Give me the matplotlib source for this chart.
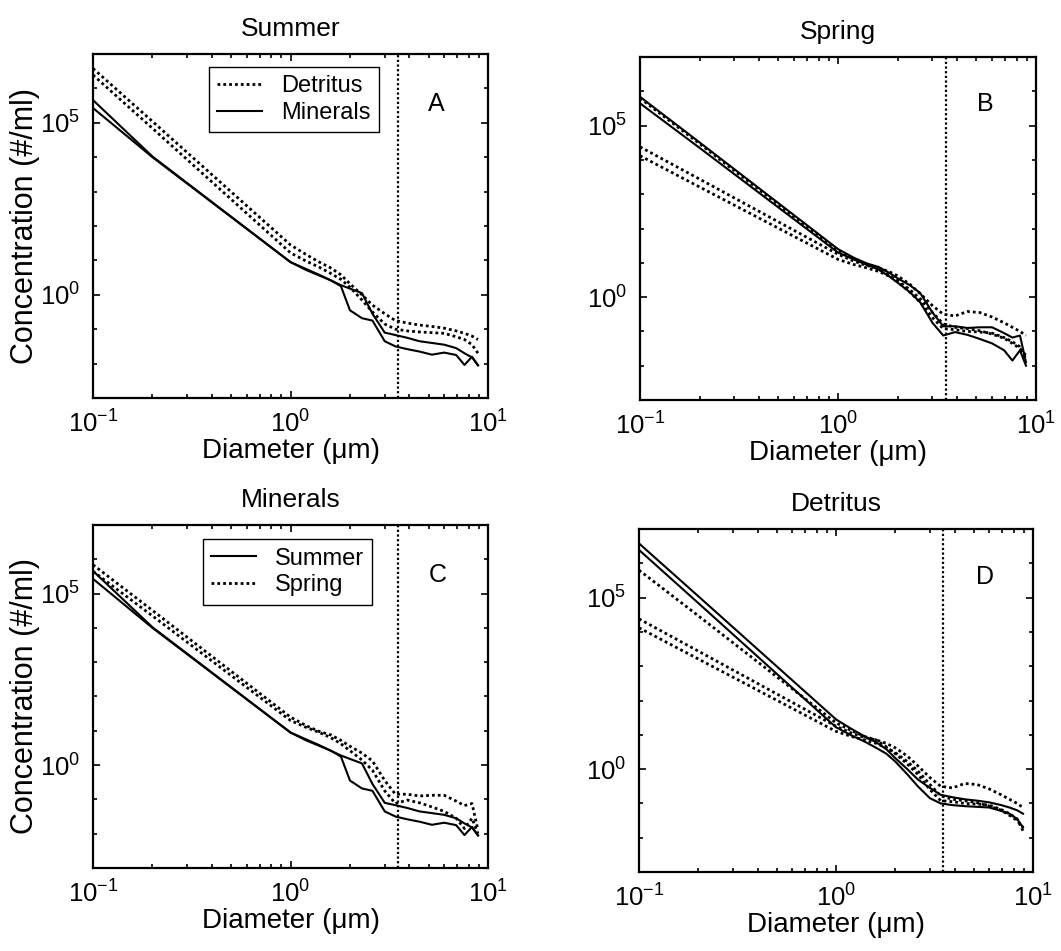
import matplotlib
matplotlib.use('Agg')
import matplotlib.pyplot as plt
import numpy as np
from matplotlib.ticker import FixedLocator, NullFormatter, FuncFormatter, LogLocator
from matplotlib.lines import Line2D

plt.rcParams['font.family'] = ['Liberation Sans', 'DejaVu Sans']
plt.rcParams['mathtext.fontset'] = 'custom'
plt.rcParams['mathtext.rm'] = 'Liberation Sans'
plt.rcParams['mathtext.it'] = 'Liberation Sans:italic'
plt.rcParams['mathtext.bf'] = 'Liberation Sans:bold'

# ---------------- data (log10 of concentration, #/ml) ----------------
diameter_um = [0.1, 0.2, 1.0, 1.2, 1.4, 1.6, 1.8, 2.0, 2.3, 2.6, 3.0, 3.4, 3.9, 4.5, 5.2, 6.0, 6.9, 7.6, 8.3, 8.9]

summer_minerals_a = [5.66, 4.02, 0.95, 0.72, 0.56, 0.42, 0.25, -0.45, -0.68, -0.75, -1.35, -1.50, -1.58, -1.65, -1.74, -1.68, -1.75, -2.04, -1.80, -2.05]
summer_minerals_b = [5.43, 4.00, 0.95, 0.75, 0.58, 0.42, 0.28, 0.18, 0.05, -0.55, -1.10, -1.17, -1.25, -1.35, -1.40, -1.45, -1.55, -1.70, -1.82, -2.05]

summer_detritus_a = [6.58, 5.04, 1.45, 1.17, 0.95, 0.78, 0.58, 0.32, 0.00, -0.30, -0.55, -0.75, -0.82, -0.88, -0.92, -0.97, -1.05, -1.12, -1.20, -1.30]
summer_detritus_b = [6.39, 4.84, 1.22, 0.98, 0.80, 0.62, 0.45, 0.22, -0.15, -0.50, -0.85, -1.00, -1.05, -1.08, -1.10, -1.12, -1.22, -1.30, -1.45, -1.70]

spring_minerals_a = [5.84, 4.51, 1.40, 1.15, 0.98, 0.88, 0.72, 0.55, 0.35, 0.12, -0.45, -0.85, -0.85, -0.90, -0.88, -0.88, -1.05, -1.18, -1.12, -1.90]
spring_minerals_b = [5.65, 4.35, 1.30, 1.10, 0.95, 0.80, 0.62, 0.42, 0.15, -0.15, -0.75, -1.12, -1.02, -1.10, -1.22, -1.35, -1.55, -1.85, -1.55, -2.00]

spring_detritus_a = [5.80, 4.47, 1.35, 1.12, 0.95, 0.85, 0.65, 0.45, 0.15, -0.15, -0.60, -0.92, -0.95, -1.00, -1.02, -1.05, -1.18, -1.30, -1.45, -1.80]
spring_detritus_b = [4.38, 3.44, 1.25, 1.05, 0.92, 0.85, 0.75, 0.62, 0.38, 0.10, -0.25, -0.50, -0.55, -0.42, -0.45, -0.58, -0.75, -0.88, -1.00, -1.12]
spring_detritus_c = [4.12, 3.21, 1.10, 0.95, 0.85, 0.75, 0.62, 0.48, 0.22, -0.05, -0.45, -0.78, -0.88, -0.92, -0.98, -1.08, -1.20, -1.35, -1.50, -1.70]

cutoff_um = 3.5

panel_titles = ['Summer', 'Spring', 'Minerals', 'Detritus']
panel_letters = ['A', 'B', 'C', 'D']
x_tick_values = [0.1, 1.0, 10.0]
y_tick_values = [1e0, 1e5]
xlabel_text = 'Diameter (\u03bcm)'
ylabel_text = 'Concentration (#/ml)'

# ---------------- styling ----------------
SOLID = dict(color='black', lw=1.5, ls='-')
DOT = dict(color='black', lw=2.0, ls=(0, (1, 1.1)))

fig = plt.figure(figsize=(10.61, 9.51), dpi=100)

rects = [
    [93 / 1061, (951 - 398) / 951, 395 / 1061, 344 / 951],
    [640 / 1061, (951 - 400) / 951, 396 / 1061, 343 / 951],
    [93 / 1061, (951 - 868) / 951, 395 / 1061, 343 / 951],
    [639 / 1061, (951 - 872) / 951, 394 / 1061, 343 / 951],
]
letter_pos = [(0.87, 0.855), (0.872, 0.864), (0.872, 0.855), (0.878, 0.86)]


def pow_fmt(v, pos):
    e = int(round(np.log10(v)))
    return r'$\mathregular{10^{%d}}$' % e


def style(ax, idx):
    ax.set_xscale('log')
    ax.set_yscale('log')
    ax.set_xlim(0.1, 10)
    ax.set_ylim(1e-3, 1e7)
    ax.xaxis.set_major_locator(FixedLocator(x_tick_values))
    ax.xaxis.set_major_formatter(FuncFormatter(pow_fmt))
    ax.xaxis.set_minor_locator(LogLocator(base=10, subs=np.arange(2, 10)))
    ax.xaxis.set_minor_formatter(NullFormatter())
    ax.yaxis.set_major_locator(FixedLocator(y_tick_values))
    ax.yaxis.set_major_formatter(FuncFormatter(pow_fmt))
    ax.yaxis.set_minor_locator(FixedLocator([10.0 ** k for k in range(-3, 8)]))
    ax.yaxis.set_minor_formatter(NullFormatter())
    ax.tick_params(which='both', direction='in', top=True, right=True, width=1.2)
    ax.tick_params(which='major', length=5, labelsize=18.5, pad=9)
    ax.tick_params(which='minor', length=3)
    for s in ax.spines.values():
        s.set_linewidth(1.6)
    ax.set_title(panel_titles[idx], fontsize=19, pad=13)
    ax.set_xlabel(xlabel_text, fontsize=20, labelpad=0)
    if idx in (0, 2):
        ax.set_ylabel(ylabel_text, fontsize=22, labelpad=0)
    ax.text(letter_pos[idx][0], letter_pos[idx][1], panel_letters[idx], transform=ax.transAxes,
            ha='center', va='center', fontsize=18)
    ax.axvline(cutoff_um, color='black', lw=1.6, ls=(0, (1, 1.1)))


def pl(ax, y, kind):
    ax.plot(diameter_um, 10.0 ** np.array(y), **(SOLID if kind == 's' else DOT))


axes = [fig.add_axes(r) for r in rects]

# A: Summer
ax = axes[0]
pl(ax, summer_detritus_a, 'd'); pl(ax, summer_detritus_b, 'd')
pl(ax, summer_minerals_a, 's'); pl(ax, summer_minerals_b, 's')
style(ax, 0)
h = [Line2D([], [], **DOT), Line2D([], [], **SOLID)]
leg = ax.legend(h, ['Detritus', 'Minerals'], loc='upper left', bbox_to_anchor=(0.294, 0.962),
                fontsize=17, frameon=True, fancybox=False, edgecolor='black', framealpha=1,
                handlelength=1.9, handletextpad=0.8, borderpad=0.35, labelspacing=0.2, borderaxespad=0)
leg.get_frame().set_linewidth(1.0)

# B: Spring
ax = axes[1]
pl(ax, spring_detritus_a, 'd'); pl(ax, spring_detritus_b, 'd'); pl(ax, spring_detritus_c, 'd')
pl(ax, spring_minerals_a, 's'); pl(ax, spring_minerals_b, 's')
style(ax, 1)

# C: Minerals
ax = axes[2]
pl(ax, summer_minerals_a, 's'); pl(ax, summer_minerals_b, 's')
pl(ax, spring_minerals_a, 'd'); pl(ax, spring_minerals_b, 'd')
style(ax, 2)
h = [Line2D([], [], **SOLID), Line2D([], [], **DOT)]
leg = ax.legend(h, ['Summer', 'Spring'], loc='upper left', bbox_to_anchor=(0.278, 0.958),
                fontsize=17, frameon=True, fancybox=False, edgecolor='black', framealpha=1,
                handlelength=1.9, handletextpad=0.8, borderpad=0.35, labelspacing=0.2, borderaxespad=0)
leg.get_frame().set_linewidth(1.0)

# D: Detritus
ax = axes[3]
pl(ax, summer_detritus_a, 's'); pl(ax, summer_detritus_b, 's')
pl(ax, spring_detritus_a, 'd'); pl(ax, spring_detritus_b, 'd'); pl(ax, spring_detritus_c, 'd')
style(ax, 3)

fig.savefig('out.png', dpi=100)
